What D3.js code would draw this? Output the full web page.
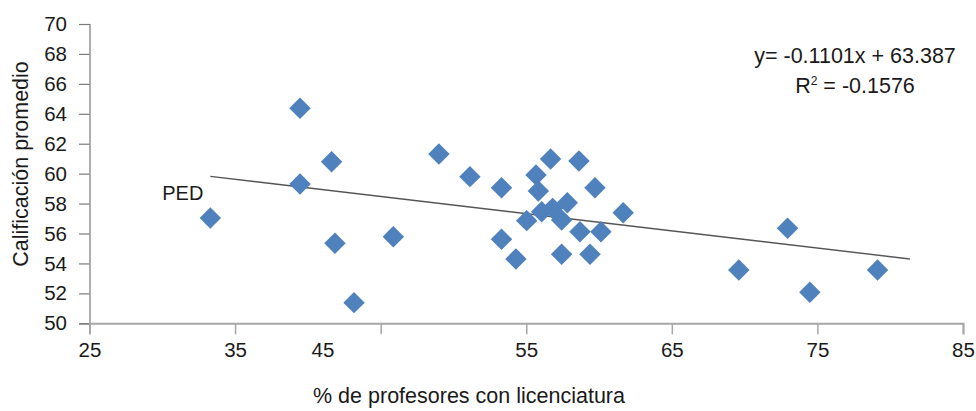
<!DOCTYPE html>
<html><head><meta charset="utf-8">
<script src="https://cdn.jsdelivr.net/npm/d3@7"></script>
<style>
html,body{margin:0;padding:0;background:#fff;}
text{font-family:"Liberation Sans",Arial,Helvetica,sans-serif;fill:#1a1a1a;}
</style></head>
<body>
<svg id="c" width="976" height="411"></svg>
<script>
const pctLicenciatura = [33.3, 39.46, 39.46, 41.63, 41.86, 43.17, 45.87, 49.0, 51.13, 53.3, 53.3, 54.29, 55.03, 55.67, 55.83, 56.06, 56.67, 56.81, 57.43, 57.82, 57.43, 58.62, 58.69, 59.72, 60.13, 59.38, 61.66, 69.6, 72.95, 74.48, 79.13];
const calificacion = [57.04, 64.37, 59.31, 60.8, 55.35, 51.38, 55.79, 61.31, 59.8, 59.06, 55.61, 54.3, 56.86, 59.91, 58.84, 57.46, 60.98, 57.68, 56.9, 58.06, 54.61, 60.85, 56.12, 59.06, 56.12, 54.61, 57.39, 53.56, 56.35, 52.07, 53.56];
const pointLabels = ["PED"];
const xTicks = [25, 35, 45, 55, 65, 75, 85];
const yTicks = [50, 52, 54, 56, 58, 60, 62, 64, 66, 68, 70];
// trendline as drawn in the picture (start and end)
const trendX = [33.3, 81.35];
const trendY = [59.82, 54.3];
const eqLines = ["y= -0.1101x + 63.387", "R\u00B2 = -0.1576"];
const xTitle = "% de profesores con licenciatura";
const yTitle = "Calificación promedio";

const svg = d3.select("#c");
const L = 89.5, R = 963, T = 24, B = 323.3;
const x = d3.scaleLinear().domain([25, 85]).range([L, R]);
const y = d3.scaleLinear().domain([50, 70]).range([B, T]);

// Y axis
const gy = svg.append("g").attr("transform", `translate(${L},0)`)
  .call(d3.axisLeft(y).tickValues(yTicks).tickSize(10.5).tickPadding(12).tickFormat(d3.format("d")));
gy.select(".domain").attr("stroke", "#7a7a7a").attr("stroke-width", 1.2);
gy.selectAll(".tick line").attr("stroke", "#7a7a7a").attr("stroke-width", 1.2);
gy.selectAll(".tick text").attr("font-size", 20.5).attr("font-family", null).style("fill", "#1a1a1a");

// X axis
const gx = svg.append("g").attr("transform", `translate(0,${B})`)
  .call(d3.axisBottom(x).tickValues(xTicks).tickSize(11).tickPadding(8).tickFormat(d3.format("d")));
gx.select(".domain").attr("stroke", "#a6a6a6").attr("stroke-width", 2);
gx.selectAll(".tick line").attr("stroke", "#a6a6a6").attr("stroke-width", 1.5);
gx.selectAll(".tick text").attr("font-size", 20.5).attr("font-family", null).style("fill", "#1a1a1a");
// the "45" label sits left of its tick in the reference
gx.selectAll(".tick").filter(d => d === 45).select("text").attr("x", x(41) - x(45));

// trendline
svg.append("line")
  .attr("x1", x(trendX[0])).attr("y1", y(trendY[0]))
  .attr("x2", x(trendX[1])).attr("y2", y(trendY[1]))
  .attr("stroke", "#555").attr("stroke-width", 1.4);

// points
const data = pctLicenciatura.map((v, i) => ({x: v, y: calificacion[i]}));
const diamond = d3.symbol().type(d3.symbolSquare).size(230);
svg.append("g").selectAll("path").data(data).join("path")
  .attr("d", diamond)
  .attr("transform", d => `translate(${x(d.x)},${y(d.y)}) rotate(45)`)
  .attr("fill", "#4F81BD");

// PED label
svg.append("text").attr("x", x(pctLicenciatura[0]) - 7).attr("y", y(calificacion[0]) - 17.5)
  .attr("text-anchor", "end").attr("font-size", 20).text(pointLabels[0]);

// equation
svg.append("text").attr("x", 855).attr("y", 63).attr("text-anchor", "middle").attr("font-size", 21.5).text(eqLines[0]);
svg.append("text").attr("x", 855).attr("y", 92.5).attr("text-anchor", "middle").attr("font-size", 21.5)
  .call(t => {
    const parts = eqLines[1].split("\u00B2");
    t.append("tspan").text(parts[0]);
    t.append("tspan").attr("font-size", 12).attr("dy", -8).text("2");
    t.append("tspan").attr("dy", 8).text(parts[1]);
  });

// axis titles
svg.append("text").attr("x", (313 + 625) / 2).attr("y", 403).attr("text-anchor", "middle").attr("font-size", 21.5).text(xTitle);
svg.append("text").attr("transform", `translate(28,164) rotate(-90)`).attr("text-anchor", "middle").attr("font-size", 21.5).text(yTitle);
</script>
</body></html>
